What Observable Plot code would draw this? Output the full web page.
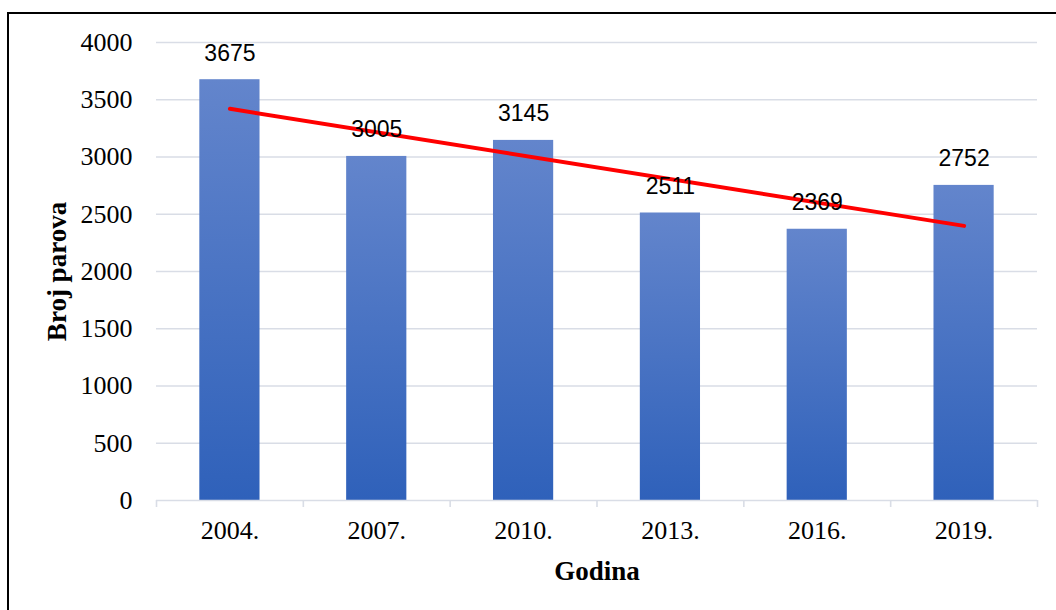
<!DOCTYPE html>
<html>
<head>
<meta charset="utf-8">
<script src="https://cdn.jsdelivr.net/npm/d3@7"></script>
<script src="https://cdn.jsdelivr.net/npm/@observablehq/plot@0.6"></script>
<style>
  html, body { margin: 0; padding: 0; background: #fff; overflow: hidden; }
  #frame { position: absolute; left: 7px; top: 12px; width: 1200px; height: 800px; border: 2px solid #000; box-sizing: border-box; }
  #chart { position: absolute; left: 0; top: 0; }
</style>
</head>
<body>
<div id="frame"></div>
<div id="chart"></div>
<script>
const years = ["2004.", "2007.", "2010.", "2013.", "2016.", "2019."];
const values = [3675, 3005, 3145, 2511, 2369, 2752];
const yTicks = [0, 500, 1000, 1500, 2000, 2500, 3000, 3500, 4000];
const xTitle = "Godina";
const yTitle = "Broj parova";

const data = years.map((year, i) => ({year, value: values[i], i}));

// linear trend line (least squares on category index)
const mx = d3.mean(data, d => d.i), my = d3.mean(data, d => d.value);
const slope = d3.sum(data, d => (d.i - mx) * (d.value - my)) / d3.sum(data, d => (d.i - mx) ** 2);
const trend = [data[0], data[data.length - 1]].map(d => ({year: d.year, value: my + slope * (d.i - mx)}));

const W = 1056, H = 610, mL = 156, mR = 19, mT = 42, mB = 110;
const step = (W - mL - mR) / years.length;
const serif = "'Liberation Serif', 'Times New Roman', serif";
const sans = "'Liberation Sans', Arial, sans-serif";
const gridColor = "#d9dde6";

const chart = Plot.plot({
  width: W, height: H,
  marginLeft: mL, marginRight: mR, marginTop: mT, marginBottom: mB,
  style: {fontFamily: serif, fontSize: "26px", color: "#000", background: "transparent"},
  x: {domain: years, paddingInner: 0.59, paddingOuter: 0.295, round: false, label: null},
  y: {domain: [0, 4000], label: null},
  marks: [
    Plot.gridY(yTicks.filter(t => t > 0), {stroke: gridColor, strokeOpacity: 1, strokeWidth: 1.6}),
    Plot.barY(data, {x: "year", y: "value", fill: "#4472c4"}),
    Plot.ruleY([0], {stroke: gridColor, strokeWidth: 1.6}),
    Plot.ruleX(years, {x: d => d, y1: 0, y2: 0, insetBottom: -7, dx: -step / 2, stroke: gridColor, strokeWidth: 1.6}),
    Plot.ruleX([years[years.length - 1]], {x: d => d, y1: 0, y2: 0, insetBottom: -7, dx: step / 2, stroke: gridColor, strokeWidth: 1.6}),
    Plot.line(trend, {x: "year", y: "value", stroke: "#ff0000", strokeWidth: 4, strokeLinecap: "round"}),
    Plot.text(data, {x: "year", y: "value", text: d => String(d.value), lineAnchor: "bottom", dy: -19, fontFamily: sans, fontSize: 23, fill: "#000"}),
    Plot.axisY({ticks: yTicks, tickSize: 0, tickPadding: 24, tickFormat: d => String(d), fontSize: 26, fontFamily: serif, label: null}),
    Plot.axisX({tickSize: 0, tickPadding: 20, fontSize: 26, fontFamily: serif, label: null}),
    Plot.text([yTitle], {frameAnchor: "left", textAnchor: "middle", lineAnchor: "middle", dx: -99, rotate: -90, fontWeight: "bold", fontSize: 27, fontFamily: serif, fill: "#000"}),
    Plot.text([xTitle], {frameAnchor: "bottom", textAnchor: "middle", lineAnchor: "middle", dy: 71, fontWeight: "bold", fontSize: 27, fontFamily: serif, fill: "#000"})
  ]
});

// vertical gradient on bars (lighter top, darker bottom)
const svg = d3.select(chart);
const defs = svg.insert("defs", ":first-child");
const grad = defs.append("linearGradient").attr("id", "barGrad").attr("x1", 0).attr("y1", 0).attr("x2", 0).attr("y2", 1);
grad.append("stop").attr("offset", "0%").attr("stop-color", "#6385cc");
grad.append("stop").attr("offset", "100%").attr("stop-color", "#2f61ba");
svg.selectAll("g[aria-label='bar'] rect").attr("fill", "url(#barGrad)");

document.getElementById("chart").appendChild(chart);
</script>
</body>
</html>
